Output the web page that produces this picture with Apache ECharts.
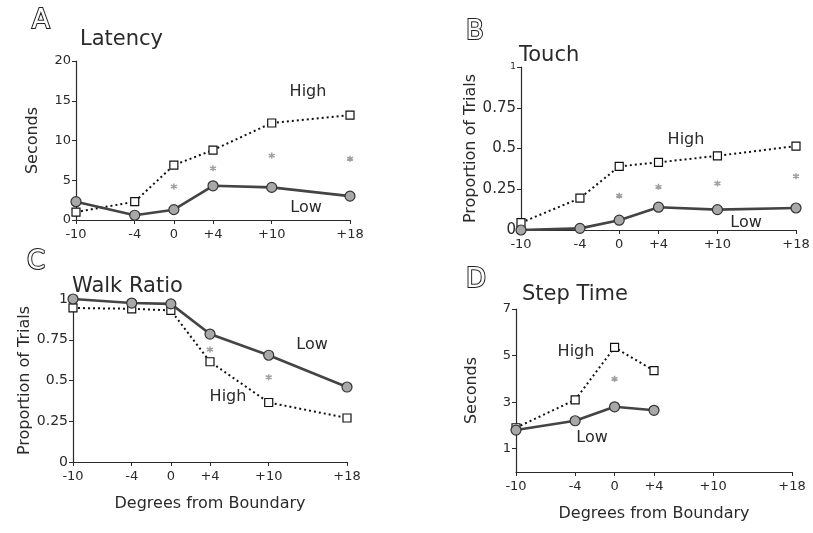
<!DOCTYPE html>
<html>
    <head>
        <meta charset="utf-8" />
        <script src="https://cdn.jsdelivr.net/npm/echarts@6.0.0/dist/echarts.min.js"></script>
    </head>
    <body style="margin: 0; background: #fff">
        <div id="main" style="width: 813px; height: 533px"></div>
        <script type="text/javascript">
            // degrees from boundary (x positions) and tick labels
            const degrees = [-10, -4, 0, 4, 10, 18];
            const degreeLabels = ["-10", "-4", "0", "+4", "+10", "+18"];

            // A - latency (seconds)
            const latencyHigh = [1.0, 2.3, 6.9, 8.8, 12.2, 13.2];
            const latencyLow = [2.3, 0.6, 1.3, 4.3, 4.1, 3.0];
            const latencySig = [null, null, 4.2, 6.5, 8.1, 7.7];

            // B - touch (proportion of trials)
            const touchHigh = [0.045, 0.195, 0.39, 0.415, 0.455, 0.515];
            const touchLow = [0.0, 0.01, 0.06, 0.14, 0.125, 0.135];
            const touchSig = [null, null, 0.21, 0.265, 0.285, 0.33];

            // C - walk ratio (proportion of trials)
            const walkHigh = [0.945, 0.94, 0.93, 0.615, 0.365, 0.27];
            const walkLow = [1.0, 0.975, 0.97, 0.785, 0.655, 0.46];
            const walkSig = [null, null, null, 0.69, 0.52, null];

            // D - step time (seconds), only first four conditions
            const stepHigh = [1.9, 3.1, 5.35, 4.35];
            const stepLow = [1.8, 2.2, 2.8, 2.65];
            const stepSig = [null, null, 4.0, null];

            const latencyTicks = [0, 5, 10, 15, 20];
            const proportionTicks = [0, 0.25, 0.5, 0.75, 1];
            const stepTicks = [1, 3, 5, 7];

            const font = "DejaVu Sans";
            const ink = "#2a2a2a";

            function pairs(ys) {
                return ys.map((y, i) => [degrees[i], y]).filter((p) => p[1] !== null);
            }

            function xAxis(idx, name) {
                return {
                    gridIndex: idx,
                    type: "value",
                    min: -10,
                    max: 18,
                    name: name || "",
                    nameLocation: "middle",
                    nameGap: 34,
                    nameTextStyle: { fontFamily: font, fontSize: 16, color: ink },
                    splitLine: { show: false },
                    axisLine: { onZero: false, lineStyle: { color: ink, width: 1.2 } },
                    axisTick: { customValues: degrees, length: 4, lineStyle: { color: ink } },
                    axisLabel: {
                        customValues: degrees,
                        formatter: (v) => degreeLabels[degrees.indexOf(v)],
                        fontFamily: font,
                        fontSize: 13,
                        color: ink,
                        margin: 8,
                    },
                };
            }

            function yAxis(idx, min, max, ticks, name, gap, size, smallTop) {
                return {
                    gridIndex: idx,
                    type: "value",
                    min: min,
                    max: max,
                    name: name,
                    nameLocation: "middle",
                    nameGap: gap,
                    nameTextStyle: { fontFamily: font, fontSize: 16, color: ink },
                    splitLine: { show: false },
                    axisLine: { show: true, onZero: false, lineStyle: { color: ink, width: 1.2 } },
                    axisTick: { show: true, customValues: ticks, length: 4, lineStyle: { color: ink } },
                    axisLabel: {
                        customValues: ticks,
                        fontFamily: font,
                        fontSize: size,
                        color: ink,
                        margin: 5,
                        formatter: (v) => (smallTop && v === max ? "{s|" + v + "}" : String(v)),
                        rich: { s: { fontSize: 9, fontFamily: font, color: ink } },
                    },
                };
            }

            function highSeries(idx, ys) {
                return {
                    type: "line",
                    xAxisIndex: idx,
                    yAxisIndex: idx,
                    data: pairs(ys),
                    symbol: "rect",
                    symbolSize: 8,
                    z: 3,
                    lineStyle: { color: "#111", width: 2, type: [2, 3] },
                    itemStyle: { color: "#fff", borderColor: "#111", borderWidth: 1.2 },
                };
            }

            function lowSeries(idx, ys) {
                return {
                    type: "line",
                    xAxisIndex: idx,
                    yAxisIndex: idx,
                    data: pairs(ys),
                    symbol: "circle",
                    symbolSize: 10,
                    z: 4,
                    lineStyle: { color: "#444", width: 2.6 },
                    itemStyle: { color: "#a8a8a8", borderColor: "#333", borderWidth: 1.2 },
                };
            }

            function sigSeries(idx, ys) {
                return {
                    type: "scatter",
                    xAxisIndex: idx,
                    yAxisIndex: idx,
                    data: pairs(ys),
                    symbol: "path://M5 0L5 10M0.7 2.5L9.3 7.5M0.7 7.5L9.3 2.5",
                    symbolSize: 6,
                    itemStyle: { color: "none", borderColor: "#888", borderWidth: 1.5 },
                };
            }

            function txt(x, y, s, size, align) {
                return {
                    type: "text",
                    x: x,
                    y: y,
                    style: {
                        text: s,
                        font: size + "px '" + font + "'",
                        fill: ink,
                        textAlign: align || "left",
                        textVerticalAlign: "middle",
                    },
                };
            }

            function letter(x, y, s) {
                return {
                    type: "text",
                    x: x,
                    y: y,
                    style: {
                        text: s,
                        font: "26px '" + font + "'",
                        fill: "#fff",
                        stroke: "#222",
                        lineWidth: 2,
                        textVerticalAlign: "middle",
                    },
                };
            }

            const myChart = echarts.init(document.getElementById("main"));
            myChart.setOption({
                backgroundColor: "#fff",
                animation: false,
                grid: [
                    { left: 76, top: 61, width: 274, height: 159 },
                    { left: 521, top: 67, width: 275, height: 163 },
                    { left: 73, top: 299, width: 274, height: 163 },
                    { left: 516, top: 309, width: 276, height: 163 },
                ],
                xAxis: [xAxis(0), xAxis(1), xAxis(2, "Degrees from Boundary"), xAxis(3, "Degrees from Boundary")],
                yAxis: [
                    yAxis(0, 0, 20, latencyTicks, "Seconds", 35, 13, false),
                    yAxis(1, 0, 1, proportionTicks, "Proportion of Trials", 40, 15, true),
                    yAxis(2, 0, 1, proportionTicks, "Proportion of Trials", 38, 14, false),
                    yAxis(3, 0, 7, stepTicks, "Seconds", 36, 13, false),
                ],
                series: [
                    highSeries(0, latencyHigh),
                    lowSeries(0, latencyLow),
                    sigSeries(0, latencySig),
                    highSeries(1, touchHigh),
                    lowSeries(1, touchLow),
                    sigSeries(1, touchSig),
                    highSeries(2, walkHigh),
                    lowSeries(2, walkLow),
                    sigSeries(2, walkSig),
                    highSeries(3, stepHigh),
                    lowSeries(3, stepLow),
                    sigSeries(3, stepSig),
                ],
                graphic: [
                    letter(32, 21, "A"),
                    letter(466, 32, "B"),
                    letter(27, 262, "C"),
                    letter(466, 280, "D"),
                    txt(80, 40, "Latency", 21),
                    txt(519, 56, "Touch", 21),
                    txt(72, 287, "Walk Ratio", 21),
                    txt(522, 295, "Step Time", 21),
                    txt(308, 92, "High", 16, "center"),
                    txt(306, 208, "Low", 16, "center"),
                    txt(686, 140, "High", 16, "center"),
                    txt(746, 223, "Low", 16, "center"),
                    txt(312, 345, "Low", 16, "center"),
                    txt(228, 397, "High", 16, "center"),
                    txt(576, 352, "High", 16, "center"),
                    txt(592, 438, "Low", 16, "center"),
                ],
            });
        </script>
    </body>
</html>
